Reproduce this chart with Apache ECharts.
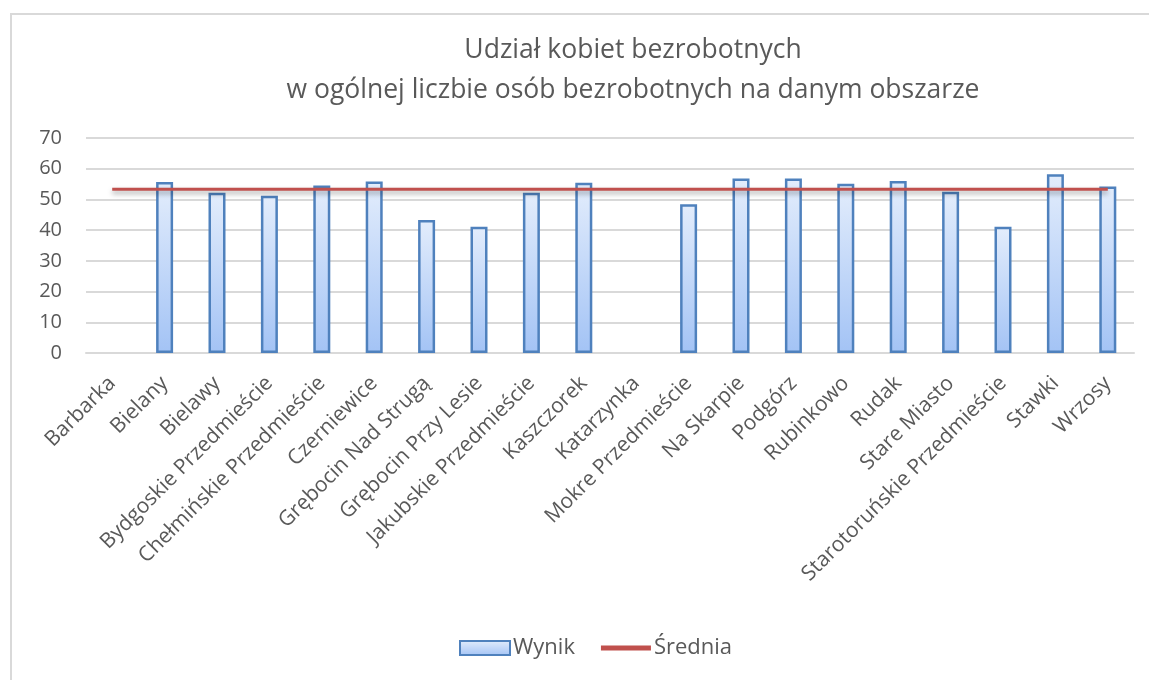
<!DOCTYPE html>
<html>
<head>
<meta charset="utf-8">
<script src="https://cdn.jsdelivr.net/npm/echarts@6/dist/echarts.min.js"></script>
<style>
  html, body { margin: 0; padding: 0; background: #fff; }
  #frame { position: absolute; left: 10px; top: 13px; width: 1160px; height: 700px;
           border-left: 2px solid #d9d9d9; border-top: 2px solid #d9d9d9; }
  #chart { position: absolute; left: 0; top: 0; width: 1149px; height: 680px; }
</style>
</head>
<body>
<div id="frame"></div>
<div id="chart"></div>
<script>
// dane z wykresu
const dzielnice = [
  "Barbarka", "Bielany", "Bielawy", "Bydgoskie Przedmieście", "Chełmińskie Przedmieście",
  "Czerniewice", "Grębocin Nad Strugą", "Grębocin Przy Lesie", "Jakubskie Przedmieście",
  "Kaszczorek", "Katarzynka", "Mokre Przedmieście", "Na Skarpie", "Podgórz", "Rubinkowo",
  "Rudak", "Stare Miasto", "Starotoruńskie Przedmieście", "Stawki", "Wrzosy"
];
const wynik = [null, 55.7, 52.2, 51.2, 54.5, 55.8, 43.3, 41.1, 52.2, 55.4,
  null, 48.4, 56.8, 56.8, 55.1, 56.0, 52.5, 41.1, 58.2, 54.2];
const srednia = dzielnice.map(() => 53.3);
const yTicks = [0, 10, 20, 30, 40, 50, 60, 70];

const font = "'Open Sans', 'Noto Sans', sans-serif";
const gray = "#595959";

const chart = echarts.init(document.getElementById("chart"), null, { renderer: "canvas" });
chart.setOption({
  animation: false,
  title: {
    text: "Udział kobiet bezrobotnych\nw ogólnej liczbie osób bezrobotnych na danym obszarze",
    left: 628, top: 25, textAlign: "center",
    textStyle: { color: gray, fontFamily: font, fontSize: 26.5, fontWeight: "normal", lineHeight: 40 }
  },
  grid: { left: 86, right: 15, top: 138, bottom: 327, containLabel: false },
  legend: {
    top: 632, left: 454, itemGap: 26, itemWidth: 50, itemHeight: 14,
    textStyle: { color: gray, fontFamily: font, fontSize: 22, padding: [0, 0, 0, -2] },
    data: [
      { name: "Wynik", icon: "rect" },
      { name: "Średnia", icon: "path://M0,0 L10,0 L10,1 L0,1 Z" }
    ]
  },
  xAxis: {
    type: "category", data: dzielnice, boundaryGap: true,
    axisLine: { lineStyle: { color: "#d9d9d9", width: 2 } },
    axisTick: { show: false },
    axisLabel: { interval: 0, rotate: 45, color: gray, fontFamily: font, fontSize: 21, margin: 27 }
  },
  yAxis: {
    type: "value", min: yTicks[0], max: yTicks[yTicks.length - 1], interval: 10,
    axisLine: { show: false }, axisTick: { show: false },
    axisLabel: { color: gray, fontFamily: font, fontSize: 20, margin: 24 },
    splitLine: { lineStyle: { color: "#d9d9d9", width: 2 } }
  },
  series: [
    {
      name: "Wynik", type: "bar", data: wynik, barWidth: 17,
      itemStyle: {
        borderColor: "#4f81bd", borderWidth: 2.5,
        color: new echarts.graphic.LinearGradient(0, 0, 0, 1, [
          { offset: 0, color: "#e3edfc" },
          { offset: 1, color: "#a3c3f5" }
        ])
      }
    },
    {
      name: "Średnia", type: "line", data: srednia, symbol: "none",
      lineStyle: { color: "#c0504d", width: 3, shadowColor: "rgba(0,0,0,0.35)", shadowBlur: 5, shadowOffsetY: 3 },
      itemStyle: { color: "#c0504d" }
    }
  ]
});
</script>
</body>
</html>
